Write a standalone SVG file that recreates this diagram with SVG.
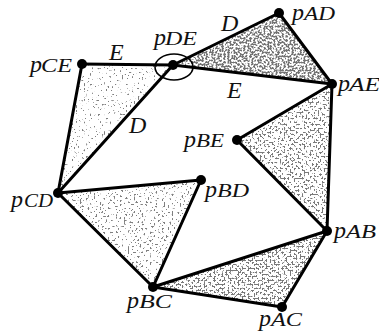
<svg xmlns="http://www.w3.org/2000/svg" width="379" height="335" viewBox="0 0 379 335">
<style>
.edge{stroke:#000;stroke-width:3;stroke-linecap:round;fill:none}
.dot{fill:#000}
.p{font-family:"Liberation Serif","DejaVu Serif",serif;font-style:italic;font-size:24px;fill:#111}
.s{font-family:"Liberation Serif","DejaVu Serif",serif;font-style:italic;font-size:18px;fill:#111}
.lab{font-family:"Liberation Serif","DejaVu Serif",serif;font-style:italic;font-size:24px;fill:#111}
</style>
<defs>
<filter id="f1" color-interpolation-filters="sRGB" x="0" y="0" width="1" height="1">
<feTurbulence type="fractalNoise" baseFrequency="0.5" numOctaves="4" seed="3" result="n"/>
<feColorMatrix in="n" type="matrix" values="0 0 0 0 0.5 0 0 0 0 0.5 0 0 0 0 0.5 -16 0 0 0 5.5" result="m"/>
<feComposite in="m" in2="SourceAlpha" operator="in"/>
</filter>
<filter id="f2" color-interpolation-filters="sRGB" x="0" y="0" width="1" height="1">
<feTurbulence type="fractalNoise" baseFrequency="0.5" numOctaves="4" seed="5" result="n"/>
<feColorMatrix in="n" type="matrix" values="0 0 0 0 0.45 0 0 0 0 0.45 0 0 0 0 0.45 -16 0 0 0 8.4" result="m"/>
<feComposite in="m" in2="SourceAlpha" operator="in"/>
</filter>
<filter id="f3" color-interpolation-filters="sRGB" x="0" y="0" width="1" height="1">
<feTurbulence type="fractalNoise" baseFrequency="0.5" numOctaves="4" seed="7" result="n"/>
<feColorMatrix in="n" type="matrix" values="0 0 0 0 0.48 0 0 0 0 0.48 0 0 0 0 0.48 -16 0 0 0 7.4" result="m"/>
<feComposite in="m" in2="SourceAlpha" operator="in"/>
</filter>
<filter id="f4" color-interpolation-filters="sRGB" x="0" y="0" width="1" height="1">
<feTurbulence type="fractalNoise" baseFrequency="0.5" numOctaves="4" seed="9" result="n"/>
<feColorMatrix in="n" type="matrix" values="0 0 0 0 0.5 0 0 0 0 0.5 0 0 0 0 0.5 -16 0 0 0 6.1" result="m"/>
<feComposite in="m" in2="SourceAlpha" operator="in"/>
</filter>
<filter id="f5" color-interpolation-filters="sRGB" x="0" y="0" width="1" height="1">
<feTurbulence type="fractalNoise" baseFrequency="0.5" numOctaves="4" seed="11" result="n"/>
<feColorMatrix in="n" type="matrix" values="0 0 0 0 0.47 0 0 0 0 0.47 0 0 0 0 0.47 -16 0 0 0 7.8" result="m"/>
<feComposite in="m" in2="SourceAlpha" operator="in"/>
</filter>
</defs>
<rect width="379" height="335" fill="#fff"/>
<g id="faces">
<polygon points="82,64 173,65 58,193" fill="#fff" filter="url(#f1)"/>
<polygon points="173,65 279,13 332,84" fill="#fff" filter="url(#f2)"/>
<polygon points="332,84 237,140 327,231" fill="#fff" filter="url(#f3)"/>
<polygon points="58,193 201,180 153,287" fill="#fff" filter="url(#f4)"/>
<polygon points="153,287 327,231 282,307" fill="#fff" filter="url(#f5)"/>
</g>
<g id="connectors">
<line class="edge" x1="82" y1="64" x2="173" y2="65"/>
<line class="edge" x1="82" y1="64" x2="58" y2="193"/>
<line class="edge" x1="173" y1="65" x2="58" y2="193"/>
<line class="edge" x1="173" y1="65" x2="279" y2="13"/>
<line class="edge" x1="173" y1="65" x2="332" y2="84"/>
<line class="edge" x1="279" y1="13" x2="332" y2="84"/>
<line class="edge" x1="332" y1="84" x2="237" y2="140"/>
<line class="edge" x1="332" y1="84" x2="327" y2="231"/>
<line class="edge" x1="237" y1="140" x2="327" y2="231"/>
<line class="edge" x1="58" y1="193" x2="201" y2="180"/>
<line class="edge" x1="201" y1="180" x2="153" y2="287"/>
<line class="edge" x1="58" y1="193" x2="153" y2="287"/>
<line class="edge" x1="153" y1="287" x2="327" y2="231"/>
<line class="edge" x1="153" y1="287" x2="282" y2="307"/>
<line class="edge" x1="327" y1="231" x2="282" y2="307"/>
<ellipse cx="174" cy="67" rx="19" ry="13" fill="none" stroke="#000" stroke-width="1.6"/>
<text class="lab" x="109" y="60">E</text>
<text class="lab" x="129" y="133">D</text>
<text class="lab" x="221" y="31">D</text>
<text class="lab" x="227" y="98">E</text>
</g>
<g id="pCE"><circle class="dot" cx="82" cy="64" r="5"/><text class="p" x="30" y="72">p</text><text class="s" x="41" y="72" textLength="31" lengthAdjust="spacingAndGlyphs">CE</text></g>
<g id="pDE"><circle class="dot" cx="173" cy="65" r="5"/><text class="p" x="154" y="45">p</text><text class="s" x="165" y="45" textLength="32" lengthAdjust="spacingAndGlyphs">DE</text></g>
<g id="pAD"><circle class="dot" cx="279" cy="13" r="5"/><text class="p" x="292" y="20">p</text><text class="s" x="304" y="20" textLength="31" lengthAdjust="spacingAndGlyphs">AD</text></g>
<g id="pAE"><circle class="dot" cx="332" cy="84" r="5"/><text class="p" x="338" y="91">p</text><text class="s" x="349" y="91" textLength="31" lengthAdjust="spacingAndGlyphs">AE</text></g>
<g id="pBE"><circle class="dot" cx="237" cy="140" r="5"/><text class="p" x="184" y="147">p</text><text class="s" x="196" y="147" textLength="28" lengthAdjust="spacingAndGlyphs">BE</text></g>
<g id="pBD"><circle class="dot" cx="201" cy="180" r="5"/><text class="p" x="205" y="197">p</text><text class="s" x="217" y="197" textLength="32" lengthAdjust="spacingAndGlyphs">BD</text></g>
<g id="pCD"><circle class="dot" cx="58" cy="193" r="5"/><text class="p" x="11" y="207">p</text><text class="s" x="24" y="207" textLength="29" lengthAdjust="spacingAndGlyphs">CD</text></g>
<g id="pBC"><circle class="dot" cx="153" cy="287" r="5"/><text class="p" x="127" y="308">p</text><text class="s" x="139" y="308" textLength="33" lengthAdjust="spacingAndGlyphs">BC</text></g>
<g id="pAB"><circle class="dot" cx="327" cy="231" r="5"/><text class="p" x="334" y="238">p</text><text class="s" x="346" y="238" textLength="30" lengthAdjust="spacingAndGlyphs">AB</text></g>
<g id="pAC"><circle class="dot" cx="282" cy="307" r="5"/><text class="p" x="259" y="326">p</text><text class="s" x="271" y="326" textLength="31" lengthAdjust="spacingAndGlyphs">AC</text></g>
</svg>
